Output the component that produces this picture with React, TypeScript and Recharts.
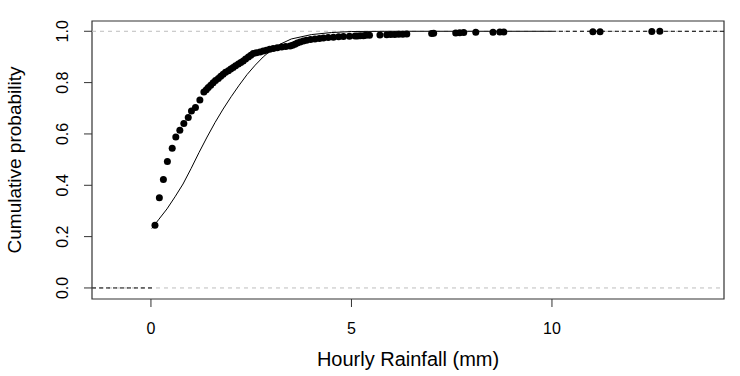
import { ScatterChart, Scatter, XAxis, YAxis, ReferenceLine, ReferenceArea } from 'recharts';

// empirical CDF of hourly rainfall (mm)
const ecdfX = [
  0.1, 0.21, 0.31, 0.41, 0.53, 0.62, 0.72, 0.82, 0.93, 1.01, 1.11, 1.22, 1.32, 1.38, 1.43, 1.49,
  1.55, 1.61, 1.68, 1.74, 1.8, 1.86, 1.93, 1.99, 2.05, 2.11, 2.18, 2.24, 2.3, 2.36, 2.43, 2.49,
  2.55, 2.63, 2.72, 2.8, 2.88, 2.96, 3.05, 3.15, 3.26, 3.36, 3.47, 3.53, 3.59, 3.65, 3.72, 3.8,
  3.88, 3.98, 4.09, 4.2, 4.3, 4.42, 4.55, 4.68, 4.8, 4.95, 5.09, 5.15, 5.22, 5.3, 5.36, 5.45,
  5.71, 5.88, 5.98, 6.08, 6.18, 6.28, 6.38, 7.0, 7.05, 7.6, 7.7, 7.8, 8.1, 8.53, 8.7, 8.8,
  11.02, 11.2, 12.49, 12.69,
];
const ecdfY = [
  0.244, 0.351, 0.423, 0.493, 0.544, 0.588, 0.614, 0.641, 0.664, 0.689, 0.703, 0.732, 0.763, 0.772, 0.781, 0.79,
  0.799, 0.808, 0.816, 0.825, 0.833, 0.84, 0.846, 0.853, 0.859, 0.866, 0.872, 0.878, 0.884, 0.892, 0.9, 0.907,
  0.913, 0.916, 0.919, 0.923, 0.926, 0.93, 0.933, 0.936, 0.939, 0.941, 0.943, 0.946, 0.949, 0.954, 0.958, 0.962,
  0.965, 0.968, 0.97, 0.972, 0.974, 0.976, 0.977, 0.979, 0.98, 0.981, 0.982, 0.982, 0.983, 0.983, 0.984, 0.984,
  0.985, 0.986, 0.987, 0.987, 0.988, 0.988, 0.989, 0.991, 0.992, 0.993, 0.994, 0.995, 0.996, 0.996, 0.997, 0.997,
  0.998, 0.998, 0.999, 1.0,
];

// fitted distribution CDF
const fitX = [0.02, 0.2, 0.4, 0.6, 0.8, 1.0, 1.2, 1.4, 1.6, 1.8, 2.0, 2.2, 2.4, 2.6, 2.8, 3.0, 3.2, 3.5, 4.0, 4.5, 5.0, 6.0, 10.0];
const fitY = [0.232, 0.268, 0.308, 0.355, 0.405, 0.465, 0.528, 0.588, 0.645, 0.697, 0.745, 0.79, 0.832, 0.868, 0.9, 0.927, 0.948, 0.97, 0.987, 0.995, 0.999, 1.0, 1.0];

const xTicks = [0, 5, 10];
const yTicks = [0, 0.2, 0.4, 0.6, 0.8, 1.0];
const xDomain = [-1.47, 14.29];
const yDomain = [-0.043, 1.04];

const ecdfData = ecdfX.map((x, i) => ({ x, y: ecdfY[i] }));
const fitData = fitX.map((x, i) => ({ x, y: fitY[i] }));

const font = '"Liberation Sans", Arial, sans-serif';

const XTick = (props: any) => (
  <text x={props.x} y={328} textAnchor="middle" dominantBaseline="central" fontSize={16} fontFamily={font} fill="#000">
    {props.payload.value}
  </text>
);

const YTick = (props: any) => (
  <text
    x={63}
    y={props.y}
    transform={`rotate(-90, 63, ${props.y})`}
    textAnchor="middle"
    dominantBaseline="central"
    fontSize={16}
    fontFamily={font}
    fill="#000"
  >
    {Number(props.payload.value).toFixed(1)}
  </text>
);

const Dot = (props: any) => <circle cx={props.cx} cy={props.cy} r={3.5} fill="#000" />;
const NoDot = () => <g />;

export default function App() {
  return (
    <div style={{ position: 'absolute', left: 0, top: 0, width: 740, height: 376, background: '#fff' }}>
      <ScatterChart width={740} height={376} margin={{ top: 21, right: 16, bottom: 0, left: 0 }}>
        <XAxis
          type="number"
          dataKey="x"
          domain={xDomain}
          ticks={xTicks}
          allowDataOverflow
          height={77}
          tickSize={8}
          tick={<XTick />}
          axisLine={false}
          tickLine={{ stroke: '#333' }}
          label={{ value: 'Hourly Rainfall (mm)', position: 'insideBottom', offset: 10, fontSize: 20, fontFamily: font, fill: '#000' }}
        />
        <YAxis
          type="number"
          dataKey="y"
          domain={yDomain}
          ticks={yTicks}
          allowDataOverflow
          width={92}
          tickSize={8}
          tick={<YTick />}
          axisLine={false}
          tickLine={{ stroke: '#333' }}
          label={{ value: 'Cumulative probability', angle: -90, position: 'insideLeft', offset: 14, fontSize: 19, fontFamily: font, fill: '#000', style: { textAnchor: 'middle' } }}
        />
        <ReferenceLine y={0} stroke="#bdbdbd" strokeDasharray="4 4" />
        <ReferenceLine y={1} stroke="#bdbdbd" strokeDasharray="4 4" />
        <ReferenceLine segment={[{ x: xDomain[0], y: 0 }, { x: ecdfX[0], y: 0 }]} stroke="#000" strokeDasharray="4 3" ifOverflow="visible" />
        <ReferenceLine segment={[{ x: 10, y: 1 }, { x: xDomain[1], y: 1 }]} stroke="#000" strokeDasharray="4 3" ifOverflow="visible" />
        <Scatter data={fitData} line={{ stroke: '#000', strokeWidth: 1 }} shape={<NoDot />} isAnimationActive={false} />
        <Scatter data={ecdfData} shape={<Dot />} isAnimationActive={false} />
        <ReferenceArea x1={xDomain[0]} x2={xDomain[1]} y1={yDomain[0]} y2={yDomain[1]} fill="none" stroke="#333" strokeWidth={1.2} ifOverflow="visible" />
      </ScatterChart>
    </div>
  );
}
